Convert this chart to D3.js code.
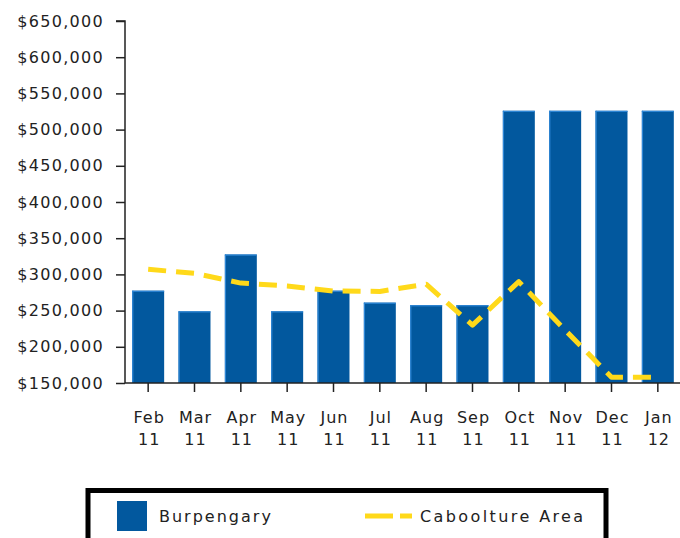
<!DOCTYPE html>
<html>
<head>
<meta charset="utf-8">
<script src="https://cdn.jsdelivr.net/npm/d3@7"></script>
<style>
  html, body { margin: 0; padding: 0; background: #fff; }
  svg text { font-family: "DejaVu Sans", sans-serif; fill: #222; }
</style>
</head>
<body>
<svg id="chart" width="680" height="538"></svg>
<script>
// months along the x axis (two-line labels)
var months = ["Feb 11", "Mar 11", "Apr 11", "May 11", "Jun 11", "Jul 11",
              "Aug 11", "Sep 11", "Oct 11", "Nov 11", "Dec 11", "Jan 12"];

// Burpengary (bars)
var burpengary = [277500, 249000, 327500, 249000, 277500, 261000,
                  257500, 257500, 526000, 526000, 526000, 526000];

// Caboolture Area (dashed line)
var caboolture = [307000, 301500, 288000, 284000, 277000, 276500,
                  286500, 230000, 290000, 223000, 158000, 158000];

var yTicks = [150000, 200000, 250000, 300000, 350000, 400000,
              450000, 500000, 550000, 600000, 650000];

var seriesNames = ["Burpengary", "Caboolture Area"];

var barColor = "#02589e",
    lineColor = "#ffd91a";

var svg = d3.select("#chart");

var x = d3.scaleBand()
  .domain(months)
  .range([125, 681])
  .paddingInner(0.31)
  .paddingOuter(0.155);

var y = d3.scaleLinear()
  .domain([150000, 650000])
  .range([383, 21]);

var fmt = d3.format(",");

// bars
var bars = svg.append("g").selectAll("g")
  .data(burpengary)
  .enter().append("g");

bars.append("rect")
  .attr("x", function (d, i) { return x(months[i]); })
  .attr("y", function (d) { return y(d); })
  .attr("width", x.bandwidth())
  .attr("height", function (d) { return y(150000) - y(d); })
  .attr("fill", barColor);

// light edge on the left and top of each bar
bars.append("rect")
  .attr("x", function (d, i) { return x(months[i]); })
  .attr("y", function (d) { return y(d); })
  .attr("width", 1.2)
  .attr("height", function (d) { return y(150000) - y(d); })
  .attr("fill", "#2d86d6");
bars.append("rect")
  .attr("x", function (d, i) { return x(months[i]); })
  .attr("y", function (d) { return y(d); })
  .attr("width", x.bandwidth())
  .attr("height", 1.2)
  .attr("fill", "#2d86d6");

// dashed line
var line = d3.line()
  .x(function (d, i) { return x(months[i]) + x.bandwidth() / 2; })
  .y(function (d) { return y(d); });

svg.append("path")
  .datum(caboolture)
  .attr("d", line)
  .attr("fill", "none")
  .attr("stroke", lineColor)
  .attr("stroke-width", 5)
  .attr("stroke-dasharray", "18,10")
  .attr("stroke-linejoin", "round");

// y axis
var yAxis = svg.append("g")
  .attr("transform", "translate(125,0)")
  .call(d3.axisLeft(y).tickValues(yTicks).tickSize(9).tickPadding(12)
    .tickFormat(function (d) { return "$" + fmt(d); }));
yAxis.select(".domain").attr("stroke", "#222").attr("stroke-width", 1.5)
  .attr("d", "M-9,21H0V383");
yAxis.selectAll(".tick line").attr("stroke", "#222").attr("stroke-width", 1.5);
yAxis.selectAll("text")
  .style("font-family", "DejaVu Sans, sans-serif")
  .attr("font-size", 16)
  .attr("letter-spacing", 1.3)
  .attr("fill", "#222");

// x axis
var xAxis = svg.append("g")
  .attr("transform", "translate(0,383)")
  .call(d3.axisBottom(x).tickSize(9).tickFormat(""));
xAxis.select(".domain").attr("stroke", "#222").attr("stroke-width", 1.5)
  .attr("d", "M125,0H680");
xAxis.selectAll(".tick line").attr("stroke", "#222").attr("stroke-width", 1.5);

xAxis.selectAll(".tick").each(function (m) {
  var parts = m.split(" ");
  var t = d3.select(this).append("text")
    .attr("text-anchor", "middle")
    .attr("font-size", 16)
    .attr("letter-spacing", 1)
    .attr("fill", "#222");
  t.append("tspan").attr("x", 1).attr("y", 40).text(parts[0]);
  t.append("tspan").attr("x", 1).attr("y", 62).text(parts[1]);
});

// legend
var legend = svg.append("g");
legend.append("rect")
  .attr("x", 88).attr("y", 490.5)
  .attr("width", 518).attr("height", 52)
  .attr("fill", "#fff")
  .attr("stroke", "#000")
  .attr("stroke-width", 5);

legend.append("rect")
  .attr("x", 117).attr("y", 501)
  .attr("width", 30).attr("height", 30)
  .attr("fill", barColor);

legend.append("text")
  .attr("x", 159).attr("y", 522)
  .attr("font-size", 16)
  .attr("letter-spacing", 2)
  .attr("fill", "#222")
  .text(seriesNames[0]);

legend.append("line")
  .attr("x1", 365).attr("x2", 412)
  .attr("y1", 516).attr("y2", 516)
  .attr("stroke", lineColor)
  .attr("stroke-width", 5)
  .attr("stroke-dasharray", "28,7");

legend.append("text")
  .attr("x", 420).attr("y", 522)
  .attr("font-size", 16)
  .attr("letter-spacing", 2.4)
  .attr("fill", "#222")
  .text(seriesNames[1]);
</script>
</body>
</html>
